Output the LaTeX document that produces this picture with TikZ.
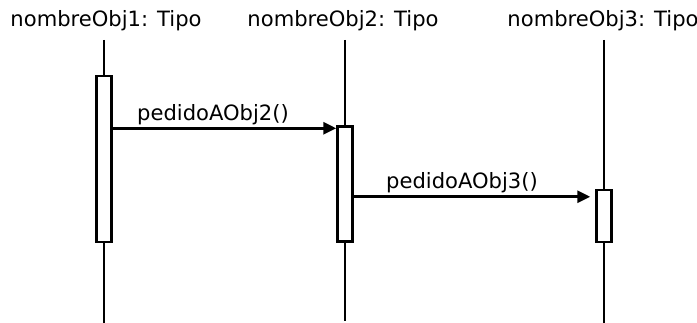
\documentclass[tikz,border=0pt]{standalone}
\usepackage{fontspec}
\setmainfont{DejaVu Sans}
\usetikzlibrary{arrows.meta}

\begin{document}
\begin{tikzpicture}[x=0.02cm,y=-0.02cm]
\tikzstyle{every node}+=[inner sep=0pt, font=\fontsize{12}{14}\selectfont]
\tikzstyle{act}=[draw=black, line width=1.4pt, fill=white, minimum width=0.3cm]
\tikzstyle{life}=[black, line width=1.7pt]
\tikzstyle{msg}=[black, line width=1.7pt, -{Triangle[length=0.26cm, width=0.24cm]}]
\useasboundingbox (0,0) rectangle (697,323);
\node [anchor=base] (o1) at (106,27) {nombreObj1: Tipo};
\node [anchor=base] (o2) at (343,27) {nombreObj2: Tipo};
\node [anchor=base] (o3) at (603,27) {nombreObj3: Tipo};
\node [act, minimum height=3.32cm] (a1) at (104,159) {};
\node [act, minimum height=2.3cm] (a2) at (345,184) {};
\node [act, minimum height=1.04cm] (a3) at (604,216) {};
\coordinate (t1) at (104,40);
\coordinate (t2) at (345,40);
\coordinate (t3) at (604,40);
\coordinate (b1) at (104,323);
\coordinate (b2) at (345,321);
\coordinate (b3) at (604,323);
\draw [life] (t1) -- (a1.north);
\draw [life] (a1.south) -- (b1);
\draw [life] (t2) -- (a2.north);
\draw [life] (a2.south) -- (b2);
\draw [life] (t3) -- (a3.north);
\draw [life] (a3.south) -- (b3);
\path (a2.north west) ++(0,3) coordinate (m1);
\path (a3.north west) ++(-5,8) coordinate (m2);
\draw [msg] (a1.east |- m1) -- (m1);
\draw (213,121) node [anchor=base] (l1) {pedidoAObj2()};
\draw [msg] (a2.east |- m2) -- (m2);
\draw (462,189) node [anchor=base] (l2) {pedidoAObj3()};
\end{tikzpicture}
\end{document}
